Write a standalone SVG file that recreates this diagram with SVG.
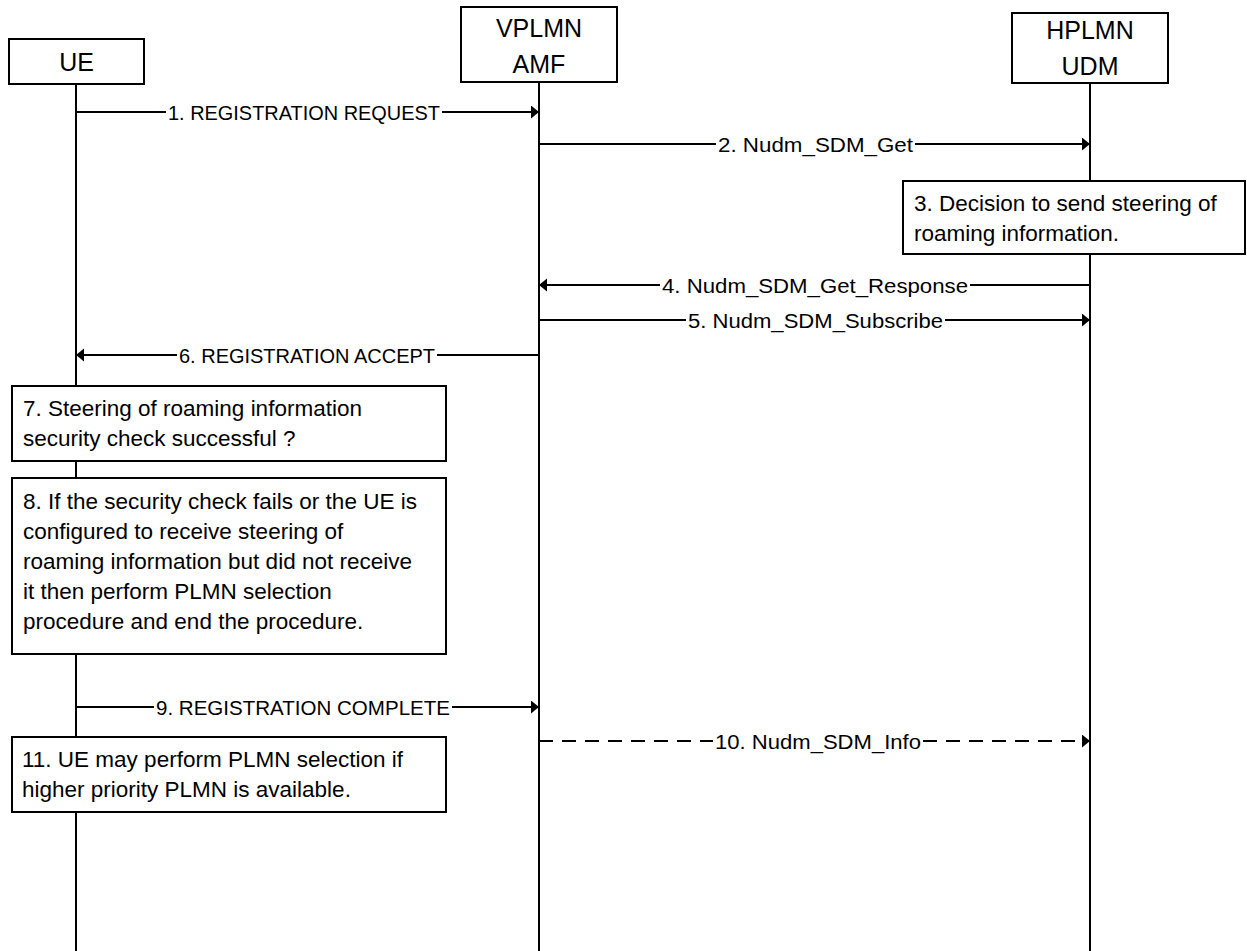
<svg xmlns="http://www.w3.org/2000/svg" width="1247" height="951" viewBox="0 0 1247 951">
<defs>
<marker id="ah" markerUnits="userSpaceOnUse" markerWidth="9" markerHeight="14" refX="8" refY="6.5" orient="auto">
<path d="M0,0 L8,6.5 L0,13 z" fill="#000"/>
</marker>
<style>
.box{fill:#fff;stroke:#000;stroke-width:2}
.life{stroke:#000;stroke-width:2;fill:none}
.msg{stroke:#000;stroke-width:2;fill:none}
.dash{stroke-dasharray:14 9}
.hd{font-family:"Liberation Sans",Arial,sans-serif;font-size:25px;fill:#000;text-anchor:middle}
.lbl{font-family:"Liberation Sans",Arial,sans-serif;font-size:20px;fill:#000}
.nt{font-family:"Liberation Sans",Arial,sans-serif;font-size:22.5px;fill:#000}
</style>
</defs>
<rect width="1247" height="951" fill="#fff"/>
<g id="lifelines">
<line class="life" x1="76" y1="84" x2="76" y2="951"/>
<line class="life" x1="539" y1="82" x2="539" y2="951"/>
<line class="life" x1="1090" y1="83" x2="1090" y2="951"/>
</g>
<g id="ue">
<rect class="box" x="9" y="39" width="135" height="45"/>
<text class="hd" x="76.5" y="71">UE</text>
</g>
<g id="amf">
<rect class="box" x="461" y="7" width="156" height="75"/>
<text class="hd" x="539" y="37">VPLMN</text>
<text class="hd" x="539" y="73">AMF</text>
</g>
<g id="udm">
<rect class="box" x="1012" y="13" width="156" height="70"/>
<text class="hd" x="1090" y="39">HPLMN</text>
<text class="hd" x="1090" y="75">UDM</text>
</g>
<g id="connectors">
<line class="msg" x1="76" y1="112" x2="166" y2="112"/>
<text class="lbl" x="168" y="119.5" textLength="272" lengthAdjust="spacingAndGlyphs">1. REGISTRATION REQUEST</text>
<line class="msg" x1="442" y1="112" x2="539" y2="112" marker-end="url(#ah)"/>

<line class="msg" x1="539" y1="144" x2="716" y2="144"/>
<text class="lbl" x="718" y="151.5" textLength="195" lengthAdjust="spacingAndGlyphs">2. Nudm_SDM_Get</text>
<line class="msg" x1="915" y1="144" x2="1090" y2="144" marker-end="url(#ah)"/>

<line class="msg" x1="1090" y1="285" x2="970" y2="285"/>
<text class="lbl" x="662" y="292.5" textLength="306" lengthAdjust="spacingAndGlyphs">4. Nudm_SDM_Get_Response</text>
<line class="msg" x1="660" y1="285" x2="539" y2="285" marker-end="url(#ah)"/>

<line class="msg" x1="539" y1="320" x2="686" y2="320"/>
<text class="lbl" x="688" y="327.5" textLength="255" lengthAdjust="spacingAndGlyphs">5. Nudm_SDM_Subscribe</text>
<line class="msg" x1="945" y1="320" x2="1090" y2="320" marker-end="url(#ah)"/>

<line class="msg" x1="539" y1="355" x2="437" y2="355"/>
<text class="lbl" x="179" y="362.5" textLength="256" lengthAdjust="spacingAndGlyphs">6. REGISTRATION ACCEPT</text>
<line class="msg" x1="177" y1="355" x2="76" y2="355" marker-end="url(#ah)"/>

<line class="msg" x1="76" y1="707" x2="154" y2="707"/>
<text class="lbl" x="156" y="714.5" textLength="294" lengthAdjust="spacingAndGlyphs">9. REGISTRATION COMPLETE</text>
<line class="msg" x1="452" y1="707" x2="539" y2="707" marker-end="url(#ah)"/>

<line class="msg dash" x1="539" y1="741" x2="713" y2="741"/>
<text class="lbl" x="715" y="748.5" textLength="206" lengthAdjust="spacingAndGlyphs">10. Nudm_SDM_Info</text>
<line class="msg dash" x1="923" y1="741" x2="1090" y2="741" marker-end="url(#ah)"/>
</g>
<g id="step3">
<rect class="box" x="903" y="181" width="342" height="73"/>
<text class="nt" x="914" y="211">3. Decision to send steering of</text>
<text class="nt" x="914" y="241">roaming information.</text>
</g>
<g id="step7">
<rect class="box" x="12" y="386" width="434" height="75"/>
<text class="nt" x="23" y="416">7. Steering of roaming information</text>
<text class="nt" x="23" y="446">security check successful ?</text>
</g>
<g id="step8">
<rect class="box" x="12" y="478" width="434" height="176"/>
<text class="nt" x="23" y="509">8. If the security check fails or the UE is</text>
<text class="nt" x="23" y="539">configured to receive steering of</text>
<text class="nt" x="23" y="569">roaming information but did not receive</text>
<text class="nt" x="23" y="599">it then perform PLMN selection</text>
<text class="nt" x="23" y="629">procedure and end the procedure.</text>
</g>
<g id="step11">
<rect class="box" x="12" y="737" width="434" height="75"/>
<text class="nt" x="22" y="767">11. UE may perform PLMN selection if</text>
<text class="nt" x="22" y="797">higher priority PLMN is available.</text>
</g>
</svg>
